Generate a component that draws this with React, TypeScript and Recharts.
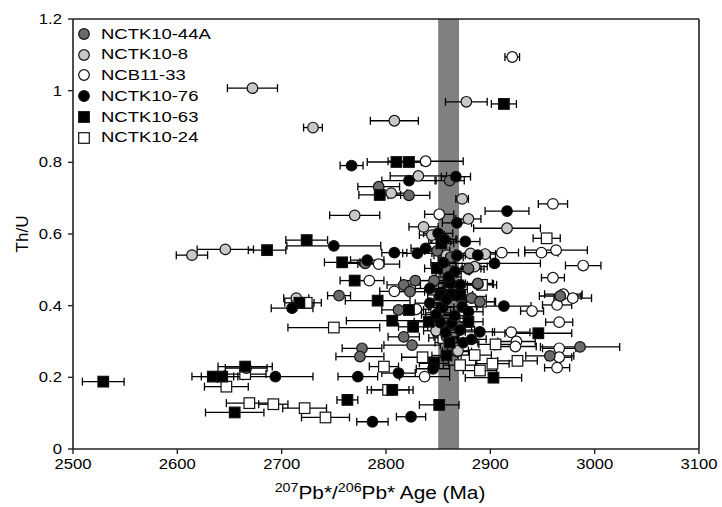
import React from 'react';
import {
  ScatterChart,
  Scatter,
  XAxis,
  YAxis,
  ErrorBar,
  ReferenceArea,
  ReferenceLine,
  Legend,
  Label,
} from 'recharts';

// [207Pb*/206Pb* age (Ma), Th/U, age error (Ma)]
type Pt = [number, number, number];

const xTicks = [2500, 2600, 2700, 2800, 2900, 3000, 3100];
const yTicks = [0, 0.2, 0.4, 0.6, 0.8, 1, 1.2];
const bandFrom = 2850;
const bandTo = 2870;

const names = ['NCTK10-44A', 'NCTK10-8', 'NCB11-33', 'NCTK10-76', 'NCTK10-63', 'NCTK10-24'];

const pts44A: Pt[] = [
  [2861, 0.749, 14], [2793, 0.732, 20], [2822, 0.708, 20], [2780, 0.518, 18],
  [2755, 0.428, 11], [2777, 0.281, 19], [2775, 0.258, 23], [2825, 0.29, 27],
  [2879, 0.502, 15], [2888, 0.46, 15], [2967, 0.427, 20], [2986, 0.285, 38],
  [2957, 0.26, 23], [2849, 0.553, 12], [2858, 0.5, 14], [2879, 0.504, 12],
  [2828, 0.47, 14], [2817, 0.458, 16], [2823, 0.439, 14], [2888, 0.462, 14],
  [2882, 0.421, 14], [2890, 0.411, 14], [2812, 0.388, 16], [2817, 0.313, 15],
  [2858, 0.313, 12], [2862, 0.535, 12], [2855, 0.585, 12], [2866, 0.445, 12],
  [2846, 0.47, 14], [2870, 0.34, 12],
];

const pts8: Pt[] = [
  [2672, 1.007, 24], [2877, 0.969, 20], [2808, 0.916, 23], [2730, 0.897, 9],
  [2831, 0.762, 27], [2805, 0.714, 15], [2873, 0.698, 6], [2770, 0.652, 24],
  [2879, 0.642, 12], [2836, 0.62, 14], [2916, 0.616, 32], [2844, 0.597, 12],
  [2614, 0.541, 15], [2646, 0.557, 27], [2858, 0.541, 12], [2881, 0.546, 14],
  [2895, 0.544, 10], [2885, 0.509, 12], [2714, 0.421, 12], [2666, 0.226, 20],
  [2869, 0.274, 10], [2862, 0.45, 12], [2848, 0.33, 12], [2866, 0.365, 12],
];

const pts33: Pt[] = [
  [2921, 1.094, 7], [2838, 0.803, 36], [2851, 0.655, 14], [2960, 0.684, 14],
  [2911, 0.548, 16], [2949, 0.548, 16], [2963, 0.555, 30], [2989, 0.512, 17],
  [2960, 0.478, 11], [2970, 0.432, 18], [2979, 0.421, 18], [2964, 0.402, 14],
  [2940, 0.385, 11], [2966, 0.354, 13], [2920, 0.326, 18], [2925, 0.3, 18],
  [2924, 0.286, 20], [2966, 0.281, 16], [2966, 0.256, 12], [2964, 0.227, 12],
  [2793, 0.516, 20], [2784, 0.47, 14], [2808, 0.44, 14], [2829, 0.39, 14],
  [2837, 0.202, 24], [2868, 0.272, 14], [2850, 0.38, 12],
];

const pts76: Pt[] = [
  [2767, 0.791, 11], [2822, 0.749, 26], [2867, 0.76, 14], [2916, 0.664, 21],
  [2868, 0.631, 14], [2850, 0.602, 14], [2750, 0.567, 45], [2808, 0.548, 12],
  [2830, 0.546, 14], [2888, 0.541, 12], [2904, 0.518, 44], [2782, 0.527, 16],
  [2876, 0.579, 14], [2838, 0.56, 14], [2866, 0.495, 14], [2842, 0.448, 14],
  [2862, 0.462, 14], [2871, 0.458, 14], [2913, 0.399, 26], [2842, 0.407, 14],
  [2873, 0.397, 14], [2879, 0.383, 14], [2852, 0.353, 14], [2863, 0.351, 14],
  [2871, 0.332, 14], [2890, 0.327, 14], [2874, 0.297, 14], [2882, 0.306, 14],
  [2845, 0.224, 16], [2812, 0.212, 16], [2773, 0.202, 19], [2694, 0.202, 36],
  [2710, 0.393, 20], [2824, 0.09, 14], [2787, 0.076, 15], [2858, 0.418, 12],
  [2848, 0.375, 14], [2866, 0.372, 12], [2856, 0.585, 12], [2860, 0.48, 12],
  [2855, 0.52, 12], [2868, 0.54, 12], [2857, 0.325, 12],
];

const pts63: Pt[] = [
  [2913, 0.963, 12], [2810, 0.801, 28], [2822, 0.801, 12], [2794, 0.709, 20],
  [2724, 0.583, 20], [2686, 0.555, 18], [2758, 0.521, 17], [2770, 0.47, 14],
  [2792, 0.414, 31], [2717, 0.408, 14], [2806, 0.358, 44], [2858, 0.261, 14],
  [2846, 0.239, 14], [2903, 0.199, 27], [2529, 0.188, 20], [2634, 0.202, 20],
  [2643, 0.202, 20], [2665, 0.23, 26], [2763, 0.137, 10], [2806, 0.165, 20],
  [2851, 0.123, 19], [2655, 0.102, 28], [2946, 0.323, 32], [2853, 0.574, 12],
  [2849, 0.504, 12], [2852, 0.43, 12], [2863, 0.43, 12], [2871, 0.43, 12],
  [2853, 0.395, 12], [2822, 0.388, 14], [2826, 0.341, 14], [2841, 0.355, 14],
  [2879, 0.355, 14], [2861, 0.297, 14], [2860, 0.465, 12],
];

const pts24: Pt[] = [
  [2954, 0.588, 13], [2892, 0.458, 14], [2891, 0.411, 14], [2750, 0.339, 44],
  [2724, 0.408, 14], [2798, 0.23, 14], [2802, 0.165, 20], [2665, 0.209, 20],
  [2647, 0.174, 21], [2669, 0.128, 22], [2692, 0.125, 14], [2722, 0.114, 21],
  [2742, 0.088, 23], [2835, 0.256, 20], [2871, 0.234, 16], [2885, 0.262, 16],
  [2890, 0.219, 16], [2902, 0.238, 16], [2926, 0.246, 19], [2905, 0.292, 16],
  [2855, 0.31, 14],
];

const rows = (pts: Pt[]) => pts.map(([age, thu, err]) => ({ age, thu, err }));

const FONT = "'Liberation Sans', Arial, sans-serif";
const STRETCH = 1.19;

type Kind = 'circle' | 'square';
interface SeriesCfg { name: string; pts: Pt[]; kind: Kind; fill: string }

// legend order
const legendSeries: SeriesCfg[] = [
  { name: names[0], pts: pts44A, kind: 'circle', fill: '#6b6b6b' },
  { name: names[1], pts: pts8, kind: 'circle', fill: '#c8c8c8' },
  { name: names[2], pts: pts33, kind: 'circle', fill: '#ffffff' },
  { name: names[3], pts: pts76, kind: 'circle', fill: '#000000' },
  { name: names[4], pts: pts63, kind: 'square', fill: '#000000' },
  { name: names[5], pts: pts24, kind: 'square', fill: '#ffffff' },
];

// drawing order (back to front)
const drawOrder = [5, 2, 1, 0, 4, 3];

const makeShape = (kind: Kind, fill: string) => (props: any) => {
  const { cx, cy } = props;
  if (cx == null || cy == null) return <g />;
  if (kind === 'circle') {
    return <circle cx={cx} cy={cy} r={5.3} fill={fill} stroke="#111" strokeWidth={1.2} />;
  }
  return <rect x={cx - 5.3} y={cy - 5.3} width={10.6} height={10.6} fill={fill} stroke="#111" strokeWidth={1.2} />;
};

const XTick = (props: any) => {
  const { x, y, payload } = props;
  return (
    <g transform={`translate(${x},${y})`}>
      <text transform={`scale(${STRETCH},1)`} textAnchor="middle" y={12} fontSize={14} fontFamily={FONT} fill="#000">
        {payload.value}
      </text>
    </g>
  );
};

const YTick = (props: any) => {
  const { x, y, payload } = props;
  return (
    <g transform={`translate(${x},${y})`}>
      <text transform={`scale(${STRETCH},1)`} textAnchor="end" y={5} fontSize={14} fontFamily={FONT} fill="#000">
        {payload.value}
      </text>
    </g>
  );
};

const XTitle = (props: any) => {
  const vb = props.viewBox || { x: 73, y: 449, width: 626 };
  const cx = vb.x + vb.width / 2 - 6;
  const y = vb.y + 50;
  return (
    <g transform={`translate(${cx},${y})`}>
      <text transform={`scale(${STRETCH},1)`} textAnchor="middle" fontSize={17.5} fontFamily={FONT} fill="#000">
        <tspan fontSize={12} dy={-7}>207</tspan>
        <tspan dy={7}>Pb*/</tspan>
        <tspan fontSize={12} dy={-7}>206</tspan>
        <tspan dy={7}>Pb* Age (Ma)</tspan>
      </text>
    </g>
  );
};

const YTitle = () => (
  <text
    transform="translate(28,234) rotate(-90)"
    textAnchor="middle"
    fontSize={17}
    fontFamily={FONT}
    fill="#000"
  >
    Th/U
  </text>
);

const LegendBox = () => (
  <div style={{ fontFamily: FONT, fontSize: 15.5, color: '#000' }}>
    {legendSeries.map((s) => (
      <div key={s.name} style={{ display: 'flex', alignItems: 'center', height: 20.8, whiteSpace: 'nowrap' }}>
        <svg width={16} height={14} style={{ display: 'block' }}>
          {s.kind === 'circle' ? (
            <circle cx={8} cy={7} r={5.3} fill={s.fill} stroke="#111" strokeWidth={1.2} />
          ) : (
            <rect x={2.7} y={1.7} width={10.6} height={10.6} fill={s.fill} stroke="#111" strokeWidth={1.2} />
          )}
        </svg>
        <span style={{ marginLeft: 9, display: 'inline-block', transform: `scaleX(${STRETCH})`, transformOrigin: 'left center', lineHeight: '20.8px' }}>
          {s.name}
        </span>
      </div>
    ))}
  </div>
);

export default function App() {
  return (
    <div style={{ position: 'absolute', left: 0, top: 0, width: 722, height: 507, background: '#fff' }}>
      <ScatterChart width={722} height={507} margin={{ top: 19, right: 23, bottom: 28, left: 23 }}>
        <XAxis
          type="number"
          dataKey="age"
          domain={[2500, 3100]}
          ticks={xTicks}
          interval={0}
          allowDataOverflow
          height={30}
          tickSize={5}
          tickMargin={3}
          tick={<XTick />}
          axisLine={{ stroke: '#222', strokeWidth: 1.6 }}
          tickLine={{ stroke: '#222', strokeWidth: 1.4 }}
        >
          <Label content={<XTitle />} />
        </XAxis>
        <YAxis
          type="number"
          dataKey="thu"
          domain={[0, 1.2]}
          ticks={yTicks}
          interval={0}
          allowDataOverflow
          width={50}
          tickSize={5}
          tickMargin={6}
          tick={<YTick />}
          axisLine={{ stroke: '#222', strokeWidth: 1.6 }}
          tickLine={{ stroke: '#222', strokeWidth: 1.4 }}
        >
          <Label content={<YTitle />} />
        </YAxis>
        <ReferenceArea x1={bandFrom} x2={bandTo} y1={0} y2={1.2} fill="#808080" fillOpacity={1} stroke="none" />
        <ReferenceLine y={1.2} stroke="#222" strokeWidth={1.6} />
        <ReferenceLine x={3100} stroke="#222" strokeWidth={1.6} />
        <Legend
          layout="vertical"
          align="center"
          verticalAlign="middle"
          content={() => <LegendBox />}
          wrapperStyle={{ position: 'absolute', left: 76, top: 23.5, width: 200 }}
        />
        {drawOrder.map((i) => {
          const s = legendSeries[i];
          return (
            <Scatter
              key={s.name}
              name={s.name}
              data={rows(s.pts)}
              isAnimationActive={false}
              shape={makeShape(s.kind, s.fill)}
            >
              <ErrorBar dataKey="err" direction="x" width={4} stroke="#000" strokeWidth={1.3} />
            </Scatter>
          );
        })}
      </ScatterChart>
    </div>
  );
}
